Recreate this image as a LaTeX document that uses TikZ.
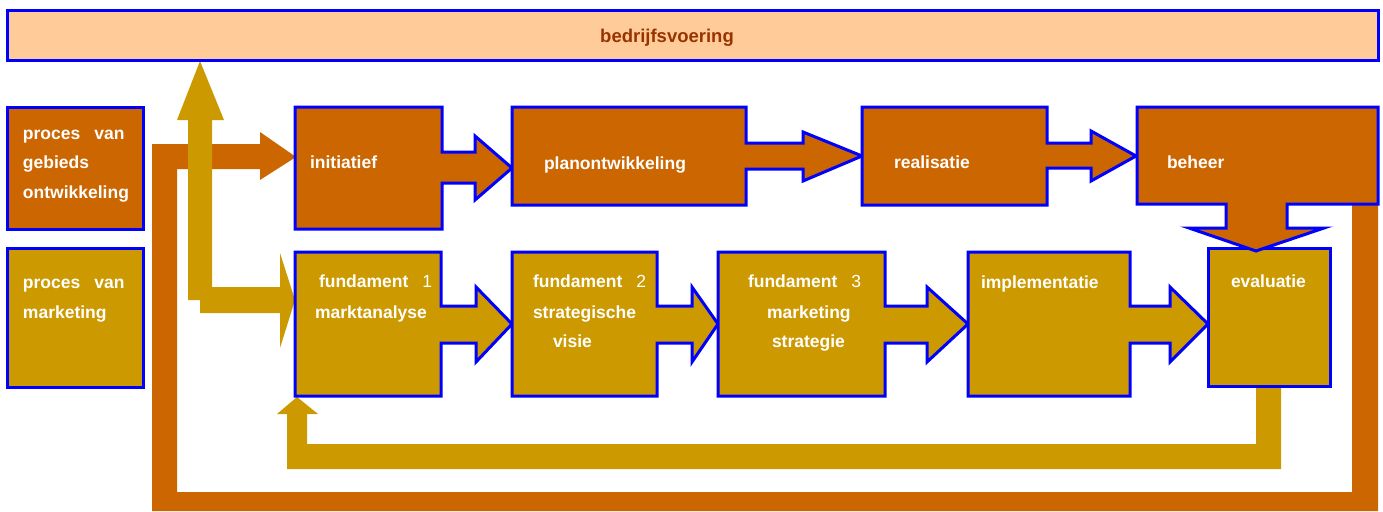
\documentclass[tikz,border=0pt]{standalone}
\usepackage{fontspec}
\setmainfont{Liberation Sans}
\definecolor{boxblue}{HTML}{0000FF}
\definecolor{rust}{HTML}{CC6600}
\definecolor{ochre}{HTML}{CC9900}
\definecolor{peach}{HTML}{FFCC99}
\definecolor{titlebrown}{HTML}{993300}
\begin{document}
\begin{tikzpicture}[x=1pt,y=-1pt,line join=miter,
  frame/.style={draw=boxblue,line width=3pt},
  lbl/.style={anchor=base west,inner sep=0pt,outer sep=0pt,text=white,
    font=\bfseries\fontsize{17.5}{21}\selectfont},
  gap/.style={}]
\useasboundingbox (0,0) rectangle (1383,511);

% feedback loop: beheer back to the start of the process (rust)
\path[fill=rust] (1352,200) -- (1378,200) -- (1378,511) -- (152,511) -- (152,144)
  -- (260,144) -- (260,132) -- (296,157) -- (260,180) -- (260,169) -- (177,169)
  -- (177,492) -- (1352,492) -- cycle;

% link between bedrijfsvoering and fundament 1 (ochre)
\path[fill=ochre] (200,61) -- (224,120) -- (212,120) -- (212,287) -- (280,287)
  -- (280,253) -- (295,300) -- (280,348) -- (280,313) -- (200,313) -- (200,300)
  -- (188,300) -- (188,120) -- (177,120) -- cycle;

% feedback loop: evaluatie back to fundament 1 (ochre)
\path[fill=ochre] (1256,383) -- (1281,383) -- (1281,469) -- (287,469) -- (287,414)
  -- (277,414) -- (297,397) -- (318,414) -- (307,414) -- (307,444) -- (1256,444) -- cycle;

% top bar
\path[frame,fill=peach] (7,11) rectangle (1378,61);
\node[anchor=base west,inner sep=0pt,text=titlebrown,
  font=\bfseries\fontsize{18.5}{22}\selectfont] (title) at (600,43) {bedrijfsvoering};

% legend boxes
\path[frame,fill=rust] (7,107) rectangle (143,229);
\path[frame,fill=ochre] (7,248) rectangle (143,387);
\node[lbl] (lg1) at (23,139) {proces\hspace{14pt}van};
\node[lbl] (lg2) at (23,168) {gebieds};
\node[lbl] (lg3) at (23,198) {ontwikkeling};
\node[lbl] (lm1) at (23,288) {proces\hspace{14pt}van};
\node[lbl] (lm2) at (23,318) {marketing};

% lower row: marketing process
\path[frame,fill=ochre] (295,252) -- (441,252) -- (441,306) -- (476,306) -- (476,287)
  -- (512,324) -- (476,362) -- (476,343) -- (441,343) -- (441,396) -- (295,396) -- cycle;
\path[frame,fill=ochre] (512,252) -- (657,252) -- (657,306) -- (692,306) -- (692,287)
  -- (718,324) -- (692,362) -- (692,343) -- (657,343) -- (657,396) -- (512,396) -- cycle;
\path[frame,fill=ochre] (718,252) -- (885,252) -- (885,306) -- (927,306) -- (927,287)
  -- (968,324) -- (927,362) -- (927,343) -- (885,343) -- (885,396) -- (718,396) -- cycle;
\path[frame,fill=ochre] (968,252) -- (1130,252) -- (1130,306) -- (1170,306) -- (1170,287)
  -- (1208,324) -- (1170,362) -- (1170,343) -- (1130,343) -- (1130,396) -- (968,396) -- cycle;
\path[frame,fill=ochre] (1208,248) rectangle (1330,386);

% upper row: area development process
\path[frame,fill=rust] (295,107) -- (442,107) -- (442,152) -- (475,152) -- (475,136)
  -- (512,168) -- (475,200) -- (475,183) -- (442,183) -- (442,229) -- (295,229) -- cycle;
\path[frame,fill=rust] (512,107) -- (746,107) -- (746,143) -- (803,143) -- (803,132)
  -- (862,156) -- (803,181) -- (803,169) -- (746,169) -- (746,205) -- (512,205) -- cycle;
\path[frame,fill=rust] (862,107) -- (1047,107) -- (1047,143) -- (1091,143) -- (1091,131)
  -- (1136,156) -- (1091,181) -- (1091,168) -- (1047,168) -- (1047,205) -- (862,205) -- cycle;
\path[frame,fill=rust] (1137,107) -- (1378,107) -- (1378,204) -- (1287,204) -- (1287,228)
  -- (1324,228) -- (1256,251) -- (1189,228) -- (1226,228) -- (1226,204) -- (1137,204) -- cycle;

% labels, upper row
\node[lbl] (init) at (310,168) {initiatief};
\node[lbl] (plan) at (544,169) {planontwikkeling};
\node[lbl] (real) at (894,168) {realisatie};
\node[lbl] (beh) at (1167,168) {beheer};

% labels, lower row
\node[lbl] (f1a) at (319,287) {fundament\hspace{14pt}{\mdseries 1}};
\node[lbl] (f1b) at (315,318) {marktanalyse};
\node[lbl] (f2a) at (533,287) {fundament\hspace{14pt}{\mdseries 2}};
\node[lbl] (f2b) at (533,318) {strategische};
\node[lbl] (f2c) at (553,347) {visie};
\node[lbl] (f3a) at (748,287) {fundament\hspace{14pt}{\mdseries 3}};
\node[lbl] (f3b) at (767,318) {marketing};
\node[lbl] (f3c) at (772,347) {strategie};
\node[lbl] (impl) at (981,288) {implementatie};
\node[lbl] (eval) at (1231,287) {evaluatie};
\end{tikzpicture}
\end{document}
